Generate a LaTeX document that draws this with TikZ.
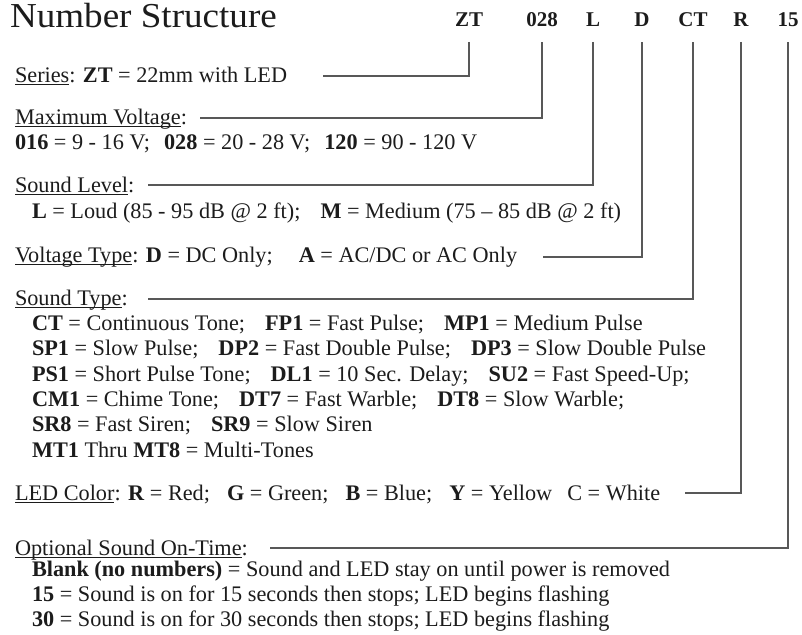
\documentclass[tikz,border=0pt]{standalone}
\usepackage{fontspec}
\setmainfont{Liberation Serif}
\newfontfamily\titlefont[FakeStretch=1.06]{Liberation Serif}
\definecolor{txt}{RGB}{28,28,28}
\definecolor{ln}{RGB}{88,88,88}
\newcommand\myul[1]{\setbox0\hbox{#1}\rlap{\rule[-3pt]{\wd0}{1.1pt}}\box0}
\newcommand\gap[1][20pt]{\hspace{#1}}
\begin{document}
\begin{tikzpicture}[x=1pt,y=-1pt,
  every node/.style={inner sep=0pt, outer sep=0pt, anchor=base west, text=txt},
  code/.style={anchor=base, font=\fontsize{21}{24}\selectfont\bfseries},
  body/.style={font=\fontsize{22.25}{25.3}\selectfont},
  conn/.style={draw=ln, line width=1.5pt}]
\useasboundingbox[fill=white] (0,0) rectangle (802,634);
% title and code
\node[font=\titlefont\fontsize{35}{40}\selectfont] (title) at (10,28) {Number Structure};
\node[code] (zt) at (469,27) {ZT};
\node[code] (v028) at (542,27) {028};
\node[code] (cl) at (593,27) {L};
\node[code] (cd) at (642,27) {D};
\node[code] (cct) at (693,27) {CT};
\node[code] (cr) at (741,27) {R};
\node[code] (c15) at (788,27) {15};
% descriptions
\node[body] (ser) at (15,82) {\myul{Series}: \textbf{ZT} = 22mm with LED};
\node[body] (mv) at (15,124) {\myul{Maximum Voltage}:};
\node[body] (mvv) at (15,149) {\textbf{016} = 9 - 16 V;\gap[14pt]\textbf{028} = 20 - 28 V;\gap[14pt]\textbf{120} = 90 - 120 V};
\node[body] (sl) at (15,192) {\myul{Sound Level}:};
\node[body] (slv) at (32,218) {\textbf{L} = Loud (85 - 95 dB @ 2 ft);\gap\textbf{M} = Medium (75 – 85 dB @ 2 ft)};
\node[body] (vt) at (15,262) {\myul{Voltage Type}: \textbf{D} = DC Only;\gap[26pt]\textbf{A} = AC/DC or AC Only};
\node[body] (st) at (15,305) {\myul{Sound Type}:};
\node[body] (st1) at (32,330) {\textbf{CT} = Continuous Tone;\gap\textbf{FP1} = Fast Pulse;\gap\textbf{MP1} = Medium Pulse};
\node[body] (st2) at (32,355.5) {\textbf{SP1} = Slow Pulse;\gap\textbf{DP2} = Fast Double Pulse;\gap\textbf{DP3} = Slow Double Pulse};
\node[body] (st3) at (32,381) {\textbf{PS1} = Short Pulse Tone;\gap\textbf{DL1} = 10 Sec. Delay;\gap\textbf{SU2} = Fast Speed-Up;};
\node[body] (st4) at (32,406) {\textbf{CM1} = Chime Tone;\gap\textbf{DT7} = Fast Warble;\gap\textbf{DT8} = Slow Warble;};
\node[body] (st5) at (32,431.5) {\textbf{SR8} = Fast Siren;\gap\textbf{SR9} = Slow Siren};
\node[body] (st6) at (32,457) {\textbf{MT1} Thru \textbf{MT8} = Multi-Tones};
\node[body] (led) at (15,500) {\myul{LED Color}: \textbf{R} = Red;\gap[17pt]\textbf{G} = Green;\gap[17pt]\textbf{B} = Blue;\gap[17pt]\textbf{Y} = Yellow\gap[15pt]C = White};
\node[body] (opt) at (15,555) {\myul{Optional Sound On-Time}:};
\node[body] (op1) at (32,576) {\textbf{Blank (no numbers)} = Sound and LED stay on until power is removed};
\node[body] (op2) at (32,601) {\textbf{15} = Sound is on for 15 seconds then stops; LED begins flashing};
\node[body] (op3) at (32,626) {\textbf{30} = Sound is on for 30 seconds then stops; LED begins flashing};
% connector ends
\coordinate (e1) at (323,76);
\coordinate (e2) at (200,118);
\coordinate (e3) at (148,185);
\coordinate (e4) at (543,257);
\coordinate (e5) at (148,299);
\coordinate (e6) at (685,493);
\coordinate (e7) at (270,548);
\draw[conn] ([yshift=-15pt]zt.south) |- (e1);
\draw[conn] ([yshift=-15pt]v028.south) |- (e2);
\draw[conn] ([yshift=-15pt]cl.south) |- (e3);
\draw[conn] ([yshift=-15pt]cd.south) |- (e4);
\draw[conn] ([yshift=-15pt]cct.south) |- (e5);
\draw[conn] ([yshift=-15pt]cr.south) |- (e6);
\draw[conn] ([yshift=-15pt]c15.south) |- (e7);
\end{tikzpicture}
\end{document}
